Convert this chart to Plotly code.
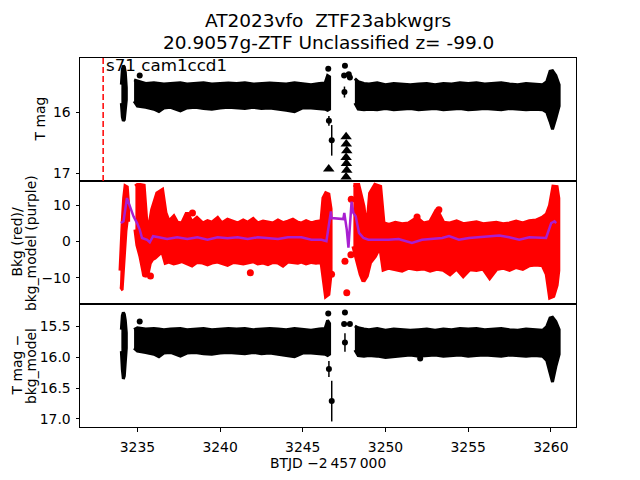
"""TESS light curve of AT2023vfo: flux, background and background-subtracted panels."""

import plotly.graph_objects as go
from plotly.subplots import make_subplots

FONT = "DejaVu Sans"
PURPLE = "#A81FD1"

# ---- panel 1: T mag (envelope of the dense point cloud, per segment) ----
p1_a_t = [3234.03, 3234.09, 3234.15, 3234.21, 3234.27, 3234.33]
p1_a_bright = [15.55, 15.30, 15.24, 15.26, 15.35, 15.60]
p1_a_faint = [15.85, 16.08, 16.14, 16.12, 16.00, 15.80]

p1_b_t = [3234.80, 3235.00, 3235.50, 3236.00, 3236.30, 3236.60, 3237.00, 3237.60, 3238.00,
          3238.50, 3239.00, 3239.50, 3240.00, 3240.50, 3241.00, 3241.50, 3242.00, 3242.50,
          3243.00, 3243.50, 3244.00, 3244.50, 3245.00, 3245.50, 3246.00, 3246.35, 3246.50, 3246.62]
p1_b_bright = [15.47, 15.49, 15.53, 15.52, 15.53, 15.54, 15.53, 15.52, 15.54, 15.53, 15.52, 15.54,
               15.53, 15.52, 15.53, 15.52, 15.54, 15.53, 15.52, 15.53, 15.54, 15.52, 15.53, 15.55,
               15.53, 15.52, 15.40, 15.42]
p1_b_faint = [15.82, 15.90, 15.92, 15.95, 15.99, 15.93, 15.92, 15.98, 15.93, 15.92, 15.94, 15.95,
              15.93, 15.92, 15.93, 15.94, 15.92, 15.94, 15.93, 15.95, 15.97, 15.99, 15.93, 15.93,
              15.94, 15.95, 15.97, 15.95]

p1_c_t = [3248.15, 3248.35, 3248.70, 3249.00, 3249.50, 3250.00, 3250.50, 3251.00, 3251.50, 3252.00,
          3252.50, 3253.00, 3253.50, 3254.00, 3254.50, 3255.00, 3255.50, 3256.00, 3256.50, 3257.00,
          3257.50, 3258.00, 3258.50, 3259.00, 3259.50, 3259.75, 3259.95, 3260.10, 3260.30, 3260.50]
p1_c_bright = [15.45, 15.50, 15.53, 15.54, 15.52, 15.55, 15.53, 15.54, 15.55, 15.54, 15.53, 15.55,
               15.53, 15.54, 15.52, 15.53, 15.52, 15.54, 15.53, 15.52, 15.54, 15.55, 15.53, 15.54,
               15.55, 15.50, 15.33, 15.32, 15.40, 15.55]
p1_c_faint = [15.85, 15.95, 15.96, 15.95, 15.96, 15.94, 15.96, 15.95, 15.94, 15.96, 15.95, 15.94,
              15.96, 15.95, 15.94, 15.96, 15.95, 15.94, 15.95, 15.96, 15.94, 15.95, 15.96, 15.95,
              15.96, 16.00, 16.15, 16.28, 16.10, 15.90]

p1_pt_t = [3235.14, 3246.54, 3247.55, 3247.50, 3247.78, 3247.85]
p1_pt_mag = [15.40, 15.29, 15.24, 15.40, 15.38, 15.43]
p1_err_t = [3246.58, 3246.75, 3247.52]
p1_err_mag = [16.14, 16.46, 15.67]
p1_err = [0.08, 0.25, 0.09]
p1_lim_t = [3246.57, 3247.62, 3247.63, 3247.66, 3247.62, 3247.64, 3247.66, 3247.62]
p1_lim_mag = [16.93, 16.40, 16.52, 16.63, 16.74, 16.84, 16.95, 17.06]

# ---- panel 2: background (red) and background model (purple) ----
p2_a_t = [3233.98, 3234.05, 3234.12, 3234.20, 3234.28, 3234.36, 3234.44]
p2_a_hi = [-8.0, 2.0, 6.0, 12.0, 15.2, 15.0, 10.0]
p2_a_lo = [-13.2, -13.0, -8.0, -2.0, 3.0, 6.0, 6.0]

p2_b_t = [3234.88, 3235.00, 3235.18, 3235.38, 3235.59, 3235.75, 3235.89, 3236.05, 3236.20, 3236.50,
          3236.70, 3236.90, 3237.20, 3237.41, 3237.70, 3238.00, 3238.30, 3238.60, 3238.95, 3239.24,
          3239.50, 3239.85, 3240.10, 3240.45, 3240.80, 3241.06, 3241.40, 3241.67, 3242.00, 3242.28,
          3242.60, 3242.89, 3243.20, 3243.50, 3243.80, 3244.10, 3244.40, 3244.70, 3244.91, 3245.20,
          3245.52, 3245.80, 3246.13, 3246.25, 3246.40, 3246.55, 3246.68]
p2_b_hi = [15.2, 15.6, 15.6, 15.4, 2.4, 5.0, 8.8, 11.5, 13.3, 14.2, 7.9, 5.5, 6.9, 5.2, 5.0, 7.9,
           5.3, 6.5, 5.0, 5.6, 5.2, 6.5, 5.0, 6.0, 5.3, 5.0, 5.8, 5.2, 6.2, 5.0, 5.5, 5.3, 5.0, 5.8,
           5.1, 5.5, 6.0, 5.2, 5.0, 5.6, 5.0, 5.4, 5.6, 12.0, 13.3, 13.0, 9.0]
p2_b_lo = [3.3, -1.0, -4.0, -8.6, -9.5, -6.0, -4.9, -4.5, -4.0, -2.6, -5.8, -5.5, -6.0, -5.8, -5.4,
           -6.0, -6.6, -5.6, -5.8, -6.3, -5.8, -5.5, -6.0, -6.4, -5.6, -5.8, -6.0, -5.8, -5.4, -6.0,
           -5.8, -6.2, -5.6, -5.8, -6.6, -5.5, -5.6, -5.8, -5.5, -6.0, -5.6, -5.8, -5.6, -10.0,
           -15.0, -14.5, -9.0]

p2_c_t = [3248.06, 3248.20, 3248.36, 3248.50, 3248.67, 3248.87, 3249.07, 3249.37, 3249.68, 3249.88,
          3250.20, 3250.60, 3251.00, 3251.40, 3251.90, 3252.30, 3252.70, 3253.10, 3253.50, 3253.90,
          3254.30, 3254.70, 3255.10, 3255.50, 3255.90, 3256.30, 3256.70, 3257.10, 3257.50, 3257.90,
          3258.30, 3258.70, 3259.10, 3259.50, 3259.75, 3259.95, 3260.15, 3260.35, 3260.45]
p2_c_hi = [15.6, 15.6, 15.6, 13.0, 9.7, 2.4, 13.3, 15.6, 15.1, 5.1, 4.6, 5.2, 4.8, 5.0, 6.5, 5.0,
           5.4, 8.8, 5.2, 5.0, 5.6, 4.8, 5.0, 5.3, 4.8, 5.0, 5.2, 4.8, 5.0, 5.5, 5.0, 5.6, 5.8, 6.6,
           7.5, 10.0, 15.1, 15.0, 12.0]
p2_c_lo = [-1.3, -4.0, -6.8, -9.0, -10.9, -9.5, -5.8, -4.0, -1.3, -7.7, -7.2, -7.5, -8.0, -7.2,
           -7.6, -7.4, -8.0, -7.5, -7.8, -9.0, -7.4, -9.5, -7.6, -7.8, -7.4, -10.0, -7.6, -7.2,
           -7.8, -7.0, -7.5, -6.5, -6.3, -6.5, -9.0, -15.4, -15.0, -12.0, -8.0]

p2_pt_t = [3235.48, 3235.79, 3241.83, 3238.33, 3246.74, 3247.55, 3247.66, 3247.91, 3247.93,
           3253.23, 3251.91]
p2_pt_bkg = [-8.9, -9.5, -8.6, 7.9, -9.0, -5.4, -14.1, -3.6, 11.7, 8.8, 6.8]

model_t = [3234.00, 3234.16, 3234.37, 3234.53, 3234.77, 3234.98, 3235.14, 3235.28, 3235.59, 3235.75,
           3235.95, 3236.29, 3236.80, 3237.41, 3238.02, 3238.63, 3239.24, 3239.85, 3240.45, 3241.06,
           3241.67, 3242.28, 3242.89, 3243.50, 3244.10, 3244.91, 3245.52, 3246.13, 3246.43, 3246.54,
           3246.70, 3246.74, 3247.35, 3247.45, 3247.51, 3247.66, 3247.76, 3247.82, 3247.95, 3248.06,
           3248.20, 3248.40, 3248.67, 3248.97, 3249.58, 3250.19, 3250.79, 3251.60, 3252.21, 3252.82,
           3253.43, 3253.84, 3254.44, 3255.05, 3255.66, 3256.27, 3256.88, 3257.48, 3258.09, 3258.70,
           3259.31, 3259.71, 3260.02, 3260.22, 3260.32]
model_bkg = [5.1, 5.6, 12.0, 9.7, 6.9, 5.1, 3.3, 1.0, 0.5, -0.2, 1.5, 1.2, 0.7, 1.2, 0.7, 1.2, 0.5,
             1.2, 0.9, 1.2, 0.7, 1.2, 1.0, 0.7, 1.2, 1.2, 0.5, 0.5, 0.1, 3.3, 8.3, 6.5, 6.3, 6.2,
             7.9, 3.3, -1.7, 3.3, 11.0, 7.9, 7.0, 2.4, 1.0, 0.5, 0.4, 0.5, 0.7, -0.4, 0.5, 0.7, 1.0,
             1.5, 0.5, 1.0, 1.2, 1.5, 1.7, 1.2, 0.5, 1.2, 1.0, 1.0, 5.1, 5.6, 5.1]

# ---- panel 3: T mag - bkg_model ----
p3_a_t = p1_a_t
p3_a_bright = [15.55, 15.32, 15.27, 15.30, 15.40, 15.60]
p3_a_faint = [15.90, 16.20, 16.35, 16.30, 16.10, 15.85]

p3_b_t = p1_b_t
p3_b_bright = [15.55, 15.52, 15.54, 15.53, 15.54, 15.55, 15.54, 15.53, 15.55, 15.54, 15.53, 15.55,
               15.54, 15.53, 15.54, 15.53, 15.55, 15.54, 15.53, 15.54, 15.55, 15.53, 15.54, 15.56,
               15.54, 15.53, 15.40, 15.45]
p3_b_faint = [15.85, 15.90, 15.92, 15.95, 15.99, 15.93, 15.92, 15.98, 15.93, 15.92, 15.94, 15.95,
              15.93, 15.92, 15.93, 15.94, 15.92, 15.94, 15.93, 15.95, 15.97, 15.99, 15.93, 15.93,
              15.94, 15.95, 15.97, 15.95]

p3_c_t = p1_c_t
p3_c_bright = [15.49, 15.52, 15.54, 15.55, 15.53, 15.56, 15.54, 15.55, 15.56, 15.55, 15.54, 15.56,
               15.54, 15.55, 15.53, 15.54, 15.53, 15.55, 15.54, 15.53, 15.55, 15.56, 15.54, 15.55,
               15.56, 15.50, 15.36, 15.35, 15.42, 15.55]
p3_c_faint = [15.88, 15.97, 15.98, 15.97, 15.98, 16.00, 15.98, 15.97, 15.96, 15.98, 15.97, 15.96,
              15.98, 15.97, 15.96, 15.98, 15.97, 15.96, 15.97, 15.98, 15.96, 15.97, 15.98, 15.97,
              15.98, 16.05, 16.25, 16.40, 16.15, 15.95]

p3_pt_t = [3235.14, 3246.54, 3247.55, 3247.50, 3247.85, 3252.10]
p3_pt_mag = [15.42, 15.29, 15.27, 15.46, 15.46, 16.02]
p3_err_t = [3246.58, 3246.75, 3247.55]
p3_err_mag = [16.19, 16.71, 15.76]
p3_err = [0.13, 0.33, 0.15]

x_ticks = [3235, 3240, 3245, 3250, 3255, 3260]
sector_line_t = 3232.93

fig = make_subplots(rows=3, cols=1, shared_xaxes=True, vertical_spacing=0)


def add_band(t, upper, lower, color, row, width):
    fig.add_trace(go.Scatter(x=t + t[::-1], y=upper + lower[::-1], mode="lines", fill="toself",
                             fillcolor=color, line=dict(color=color, width=width),
                             hoverinfo="skip", showlegend=False), row=row, col=1)


def add_points(t, y, color, row, size=6, symbol="circle", err=None):
    error_y = dict(type="data", array=err, color=color, thickness=1.5, width=0) if err else None
    fig.add_trace(go.Scatter(x=t, y=y, mode="markers", error_y=error_y,
                             marker=dict(color=color, size=size, symbol=symbol, line_width=0),
                             showlegend=False), row=row, col=1)


for seg in [(p1_a_t, p1_a_bright, p1_a_faint), (p1_b_t, p1_b_bright, p1_b_faint),
            (p1_c_t, p1_c_bright, p1_c_faint)]:
    add_band(*seg, "black", 1, 3)
add_points(p1_pt_t, p1_pt_mag, "black", 1)
add_points(p1_err_t, p1_err_mag, "black", 1, err=p1_err)
add_points(p1_lim_t, p1_lim_mag, "black", 1, size=10, symbol="triangle-up")

for seg in [(p2_a_t, p2_a_hi, p2_a_lo), (p2_b_t, p2_b_hi, p2_b_lo), (p2_c_t, p2_c_hi, p2_c_lo)]:
    add_band(*seg, "red", 2, 4)
add_points(p2_pt_t, p2_pt_bkg, "red", 2, size=7)
fig.add_trace(go.Scatter(x=model_t, y=model_bkg, mode="lines", line=dict(color=PURPLE, width=2.5),
                         showlegend=False), row=2, col=1)

for seg in [(p3_a_t, p3_a_bright, p3_a_faint), (p3_b_t, p3_b_bright, p3_b_faint),
            (p3_c_t, p3_c_bright, p3_c_faint)]:
    add_band(*seg, "black", 3, 3)
add_points(p3_pt_t, p3_pt_mag, "black", 3)
add_points(p3_err_t, p3_err_mag, "black", 3, err=p3_err)

fig.add_shape(type="line", x0=sector_line_t, x1=sector_line_t, y0=0, y1=1, xref="x", yref="y domain",
              line=dict(color="red", width=1.5, dash="6px,3px"), row=1, col=1)

axis_style = dict(showline=True, mirror=True, linecolor="black", linewidth=1, showgrid=False,
                  zeroline=False, ticks="outside", ticklen=3.5, tickwidth=0.8, tickcolor="black",
                  tickfont=dict(family=FONT, size=13.9, color="black"))
fig.update_xaxes(axis_style, range=[3231.53, 3261.52], tickvals=x_ticks, ticklabelstandoff=4)
fig.update_xaxes(ticks="", showticklabels=False, row=1, col=1)
fig.update_xaxes(ticks="", showticklabels=False, row=2, col=1)
fig.update_yaxes(axis_style, ticklabelstandoff=2)
fig.update_yaxes(range=[17.125, 15.113], tickvals=[16, 17], row=1, col=1)
fig.update_yaxes(range=[-17.2, 16.7], tickvals=[-10, 0, 10], ticktext=["\u221210", "0", "10"],
                 row=2, col=1)
fig.update_yaxes(range=[17.13, 15.134], tickvals=[15.5, 16.0, 16.5, 17.0],
                 ticktext=["15.5", "16.0", "16.5", "17.0"], row=3, col=1)

text_font = dict(family=FONT, size=13.9, color="black")
title_font = dict(family=FONT, size=18.5, color="black")


def ylabel(text, x, y):
    return dict(text=text, x=x, y=y, xref="paper", yref="paper", showarrow=False,
                textangle=-90, xanchor="center", yanchor="middle", font=text_font)


annotations = [
    dict(text="AT2023vfo \u00a0ZTF23abkwgrs", x=0.5, y=1.1028, xref="paper", yref="paper",
         showarrow=False, yanchor="middle", font=title_font),
    dict(text="20.9057g-ZTF Unclassified z= -99.0", x=0.5, y=1.0433, xref="paper", yref="paper",
         showarrow=False, yanchor="middle", font=title_font),
    dict(text="s71 cam1ccd1", x=3232.98, y=15.225, xref="x", yref="y", showarrow=False,
         xanchor="left", yanchor="middle", font=dict(family=FONT, size=16.7, color="black")),
    ylabel("T mag", -0.0806, 5 / 6),
    ylabel("Bkg (red)/", -0.1290, 0.5),
    ylabel("bkg_model (purple)", -0.0998, 0.5),
    ylabel("T mag \u2212", -0.1290, 1 / 6),
    ylabel("bkg_model", -0.0998, 1 / 6),
    dict(text="BTJD \u22122\u2009457\u2009000", x=0.5, y=-0.0969, xref="paper", yref="paper",
         showarrow=False, xanchor="center", yanchor="middle", font=text_font),
]

# the page body adds an 8 px offset, so the figure is 8 px smaller and shifted margins compensate
fig.update_layout(width=632, height=472, margin=dict(l=72, r=64, t=49.6, b=52.8),
                  plot_bgcolor="white", paper_bgcolor="white", showlegend=False,
                  annotations=annotations, font=dict(family=FONT, color="black"))

fig.write_html("out.html")
